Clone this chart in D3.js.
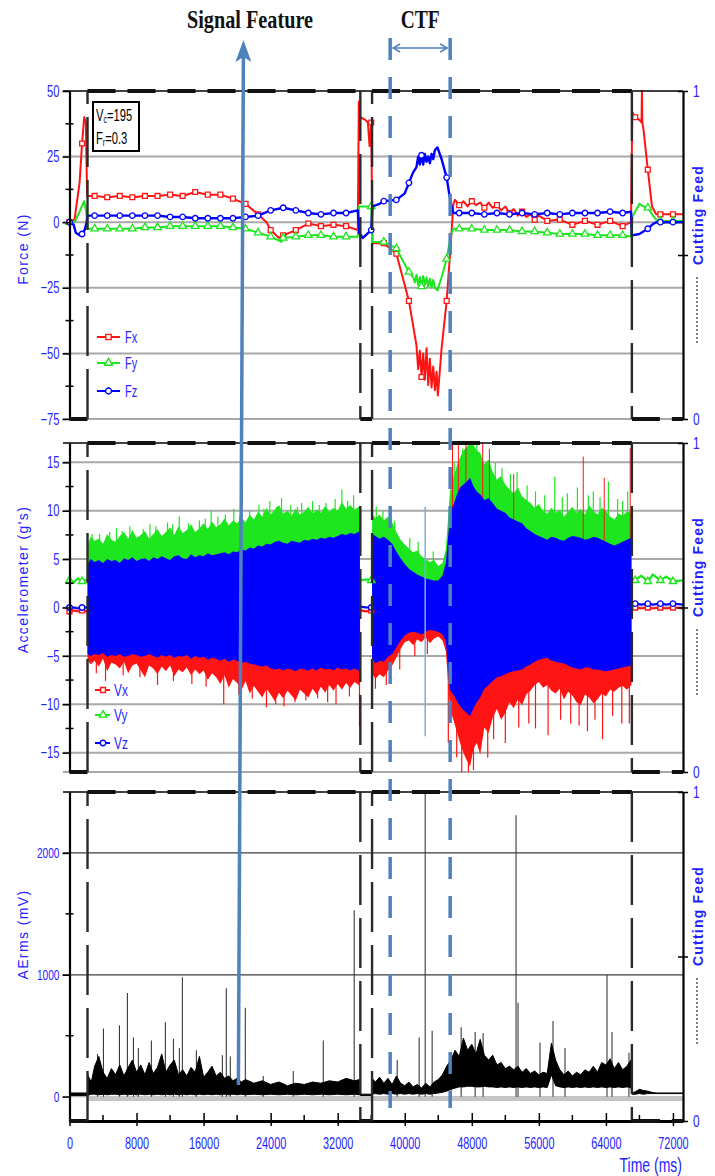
<!DOCTYPE html>
<html>
<head>
<meta charset="utf-8">
<script src="https://cdn.jsdelivr.net/npm/d3@7"></script>
<style>
  body { margin: 0; background: #fff; }
</style>
</head>
<body>
<svg id="chart"></svg>
<script>
// ---------- data ----------
const TIME_DOMAIN = [0, 73200];
const TIME_TICKS = [0, 8000, 16000, 24000, 32000, 40000, 48000, 56000, 64000, 72000];
const TIME_MINOR = [4000, 12000, 20000, 28000, 36000, 44000, 52000, 60000, 68000];

const FORCE_DOMAIN = [-75, 50];
const FORCE_TICKS = [-75, -50, -25, 0, 25, 50];
const FORCE_MINOR = [-62.5, -37.5, -12.5, 12.5, 37.5];
const ACC_DOMAIN = [-17, 17];
const ACC_TICKS = [-15, -10, -5, 0, 5, 10, 15];
const ACC_MINOR = [-12.5, -7.5, -2.5, 2.5, 7.5, 12.5];
const AE_DOMAIN = [-200, 2500];
const AE_TICKS = [0, 1000, 2000];
const AE_MINOR = [500, 1500];
const FEED_TICKS = [0, 0.5, 1];

// cutting feed on/off (right axis, 0..1)
const FEED = [[0, 0], [2150, 0], [2150, 1], [34700, 1], [34700, 0], [36100, 0],
  [36100, 1], [67100, 1], [67100, 0], [73200, 0]];

const SIGNAL_FEATURE_T = [20750, 20150];   // arrow top, arrow bottom
const CTF_T = [38260, 45420];

const FORCE_NAMES = ["Fx", "Fy", "Fz"];
const ACC_NAMES = ["Vx", "Vy", "Vz"];

// force (N), [time ms, value]
const FX = [[0, 0], [600, 1], [1200, 15], [1500, 30], [1750, 40], [1950, 38], [2100, 10],
  [3000, 10], [4500, 9.5], [6000, 10], [7500, 9.5], [9000, 10], [10500, 10], [12000, 10.5],
  [13500, 10], [15000, 11.5], [16500, 10.5], [18000, 10.5], [19500, 9], [21000, 7], [22500, 3],
  [23500, 0], [24000, -3], [25000, -6], [25500, -5], [27000, -3], [28500, -0.5], [30000, -1.5],
  [31500, -1], [33000, -1.5], [34400, -3], [34520, 46], [34700, 40], [35300, 39], [35600, 38],
  [35800, 29], [36000, 38], [36150, -8], [37500, -8], [39000, -12], [40500, -30], [41400, -47],
  [41600, -56], [41800, -49], [42000, -59], [42200, -50], [42400, -60], [42600, -48], [42800, -62],
  [43000, -52], [43200, -63], [43400, -55], [43600, -64], [43800, -57], [43950, -66], [44400, -48],
  [45000, -30], [45500, -8], [45800, 7], [46000, 8.5], [46500, 6.5], [47000, 8], [47500, 6],
  [48000, 8], [48500, 6.5], [49000, 7.5], [49500, 5.5], [50000, 7.5], [50500, 5.5], [51000, 6.5],
  [51500, 4.5], [52000, 6], [52500, 3.5], [53000, 5], [53500, 2.5], [54000, 4], [54500, 2],
  [55000, 3], [55500, 1], [56000, 2.5], [57000, 0.5], [58500, 1], [60000, -1], [61500, 0.5],
  [63000, -1], [64500, 0.5], [66000, -1.5], [67000, 0], [67150, 42], [67500, 40], [68000, 39],
  [68250, 38], [68300, 50], [68350, 38], [68500, 35], [69000, 20], [69500, 6], [70000, 3],
  [70500, 3], [72000, 3], [73200, 3]];

const FY = [[0, 0], [600, 0], [1200, 4], [1750, 8], [2000, 4], [2150, -2.5], [3000, -2.5],
  [4500, -2.5], [6000, -2.5], [7500, -2.5], [9000, -2], [10500, -2], [12000, -1.5], [13500, -1.5],
  [15000, -1.5], [16500, -1.5], [18000, -1.5], [19500, -2], [21000, -2.5], [22500, -4],
  [24000, -5.5], [25300, -7.5], [25500, -6], [27000, -5.5], [28500, -5], [30000, -5], [31500, -5.5],
  [33000, -5.5], [34400, -5.5], [34550, 6], [36000, 6], [36150, -7.5], [37500, -7.5], [39000, -10],
  [40000, -16], [40500, -19], [41000, -21], [41200, -23], [41400, -20], [41600, -24], [41800, -21],
  [42000, -24.5], [42200, -20.5], [42400, -24], [42600, -21], [42800, -24.5], [43000, -21.5],
  [43200, -25], [43400, -22], [43600, -25], [43900, -26], [44400, -21], [45000, -14], [45500, -5],
  [45800, -2.5], [46500, -2.5], [48000, -2.5], [49500, -3], [51000, -3], [52500, -3], [54000, -3.5],
  [55500, -3.5], [57000, -4], [58500, -4.5], [60000, -4.5], [61500, -4.5], [63000, -5],
  [64500, -5], [66000, -5], [67000, -5.5], [67150, 2], [68000, 7], [68500, 6], [69000, 5.5],
  [69500, 3], [70000, 1], [70500, 0.5], [72000, 0.5], [73200, 0.5]];

const FZ = [[0, 0], [500, -1], [750, -4], [1200, -5], [1500, -4.5], [1800, -3], [2050, 0],
  [2150, 2.5], [3000, 2.5], [4500, 2.5], [6000, 2.5], [7500, 2.5], [9000, 2.5], [10500, 2.5],
  [12000, 2], [13500, 2], [15000, 1.5], [16500, 1.5], [18000, 1.5], [19500, 1.5], [21000, 2],
  [22500, 2.5], [24000, 4.5], [25500, 5.5], [27000, 4.5], [28500, 3.5], [30000, 3], [31500, 3.5],
  [33000, 3.5], [34400, 4.5], [34550, -4], [35000, -6], [36000, -3], [36150, 6], [37000, 7],
  [37500, 8], [39000, 8.5], [40000, 11], [40500, 15], [41000, 19], [41400, 21], [41600, 25],
  [41800, 22], [42000, 25.5], [42200, 22], [42400, 26], [42600, 23], [42800, 25], [43000, 22.5],
  [43200, 26], [43400, 24], [43600, 27.5], [43900, 28.5], [44400, 24], [45000, 17], [45500, 7],
  [45800, 3.5], [46500, 3.5], [48000, 3.5], [49500, 3], [51000, 3.5], [52500, 3], [54000, 3.5],
  [55500, 3], [57000, 3.5], [58500, 3], [60000, 3.5], [61500, 3.5], [63000, 3.5], [64500, 4],
  [66000, 3.5], [67000, 4], [67100, -5], [68000, -4.5], [69000, -2.5], [69500, -1], [70000, 0],
  [70500, 0], [72000, 0], [73200, 0]];

// accelerometer (g's) while cutting: [time, Vx min, Vz min, Vz max, Vy max]
const ACC_CUT1 = [
  [2150, -5.4, -4.8, 4.4, 6.4], [2500, -5.9, -5.0, 5.0, 7.3], [3000, -5.5, -4.8, 4.7, 6.9],
  [3500, -6.1, -4.9, 4.9, 7.1], [4000, -5.3, -4.7, 4.6, 6.6], [4500, -6.6, -5.1, 5.0, 7.6],
  [5000, -5.7, -4.9, 4.8, 7.0], [5500, -5.9, -5.0, 4.9, 6.8], [6000, -6.3, -4.8, 4.6, 7.4],
  [6500, -5.6, -5.1, 5.1, 7.8], [7000, -6.8, -5.0, 4.9, 7.1], [7500, -6.0, -4.8, 5.2, 8.0],
  [8000, -5.8, -4.9, 4.8, 7.2], [8500, -6.5, -5.1, 5.0, 7.5], [9000, -7.2, -5.0, 5.1, 7.9],
  [9500, -6.0, -4.8, 4.8, 7.1], [10000, -6.3, -5.0, 5.2, 7.6], [10500, -6.9, -5.2, 5.0, 8.1],
  [11000, -6.1, -4.9, 5.3, 7.4], [11500, -6.6, -5.1, 5.1, 7.8], [12000, -6.0, -4.9, 4.9, 8.3],
  [12500, -7.1, -5.2, 5.3, 7.5], [13000, -6.4, -5.0, 5.4, 8.4], [13500, -6.7, -5.1, 5.1, 7.7],
  [14000, -6.2, -4.9, 5.0, 8.0], [14500, -7.0, -5.3, 5.5, 8.6], [15000, -6.4, -5.0, 5.2, 7.8],
  [15500, -6.9, -5.2, 5.4, 8.2], [16000, -6.5, -5.1, 5.3, 8.7], [16500, -7.5, -5.4, 5.6, 8.1],
  [17000, -6.8, -5.2, 5.4, 8.9], [17500, -7.2, -5.3, 5.5, 8.3], [18000, -7.9, -5.5, 5.6, 8.6],
  [18500, -7.0, -5.3, 5.7, 9.2], [19000, -8.3, -5.6, 5.5, 8.5], [19500, -7.4, -5.4, 5.8, 9.0],
  [20000, -7.8, -5.5, 5.7, 8.7], [20500, -8.6, -5.7, 6.0, 9.3], [21000, -7.6, -5.6, 5.9, 8.8],
  [21500, -8.9, -5.8, 6.2, 9.6], [22000, -8.1, -5.9, 6.1, 9.1], [22500, -8.7, -6.0, 6.4, 9.9],
  [23000, -9.3, -6.1, 6.3, 9.4], [23500, -8.4, -6.0, 6.6, 10.3], [24000, -9.0, -6.3, 6.5, 9.6],
  [24500, -9.7, -6.4, 6.8, 10.1], [25000, -8.8, -6.3, 6.9, 10.6], [25500, -9.4, -6.5, 6.7, 9.7],
  [26000, -8.6, -6.3, 6.6, 10.0], [26500, -9.1, -6.4, 6.9, 9.5], [27000, -9.6, -6.6, 6.8, 10.2],
  [27500, -8.5, -6.3, 6.7, 9.6], [28000, -8.9, -6.4, 7.0, 9.9], [28500, -9.3, -6.5, 6.9, 10.4],
  [29000, -8.4, -6.3, 7.1, 9.7], [29500, -9.0, -6.5, 7.0, 10.1], [30000, -8.2, -6.2, 7.2, 9.8],
  [30500, -8.8, -6.4, 7.1, 10.5], [31000, -8.0, -6.3, 7.3, 9.9], [31500, -8.6, -6.5, 7.2, 10.3],
  [32000, -7.9, -6.2, 7.4, 10.0], [32500, -8.5, -6.4, 7.6, 10.9], [33000, -7.8, -6.3, 7.5, 10.2],
  [33500, -8.3, -6.5, 7.7, 10.6], [34000, -7.7, -6.3, 7.6, 10.1], [34650, -8.1, -6.6, 7.9, 10.5]];
const ACC_CUT2 = [
  [36100, -6.8, -5.2, 7.6, 9.8], [36500, -7.4, -5.8, 7.4, 9.2], [37000, -6.9, -5.5, 7.1, 9.6],
  [37500, -7.2, -5.6, 7.3, 9.0], [38000, -6.5, -5.1, 7.0, 9.4], [38500, -6.0, -4.8, 6.6, 8.8],
  [39000, -5.2, -4.1, 5.8, 7.8], [39500, -4.3, -3.4, 5.1, 7.0], [40000, -3.6, -2.9, 4.5, 6.5],
  [40500, -3.4, -2.6, 4.0, 6.1], [41000, -3.9, -2.5, 3.7, 5.7], [41500, -3.3, -2.6, 3.4, 5.9],
  [42000, -3.6, -2.8, 3.2, 5.3], [42500, -3.1, -2.5, 3.0, 5.0], [43000, -3.7, -2.3, 2.9, 4.7],
  [43500, -3.2, -2.4, 2.8, 4.9], [44000, -3.0, -2.5, 2.8, 4.3], [44500, -3.4, -2.8, 3.3, 4.6],
  [44900, -4.5, -3.5, 4.6, 6.0], [45400, -10.5, -8.5, 9.6, 12.0], [45800, -11.6, -9.0, 10.6, 13.4],
  [46200, -12.8, -9.6, 11.6, 14.6], [46600, -14.0, -10.2, 12.4, 15.5], [47000, -15.0, -10.6, 12.7, 16.2],
  [47400, -15.8, -10.9, 13.0, 16.6], [47800, -16.4, -11.2, 13.4, 17], [48200, -14.6, -10.4, 12.5, 16.8],
  [48600, -14.0, -9.8, 12.0, 16.2], [49000, -15.2, -9.3, 11.7, 16.0], [49500, -12.4, -8.4, 11.1, 14.8],
  [50000, -13.0, -8.0, 11.3, 15.3], [50500, -11.4, -7.6, 10.8, 14.0], [51000, -10.5, -7.2, 10.2, 13.2],
  [51500, -11.6, -7.1, 10.0, 13.6], [52000, -10.9, -6.9, 9.8, 12.7], [52500, -9.8, -6.7, 9.3, 12.2],
  [53000, -10.4, -6.6, 9.1, 11.8], [53500, -9.5, -6.5, 8.9, 12.4], [54000, -10.1, -6.4, 8.7, 11.5],
  [54500, -9.0, -6.1, 8.2, 11.1], [55000, -8.6, -5.9, 7.9, 10.8], [55500, -8.0, -5.6, 7.6, 10.3],
  [56000, -7.7, -5.4, 7.4, 10.7], [56500, -8.3, -5.3, 7.2, 10.0], [57000, -8.0, -5.2, 7.0, 9.7],
  [57500, -8.6, -5.5, 7.3, 10.3], [58000, -8.9, -5.6, 7.2, 9.8], [58500, -8.4, -5.7, 7.0, 10.1],
  [59000, -9.5, -5.8, 6.9, 9.4], [59500, -8.7, -6.0, 7.2, 9.9], [60000, -9.1, -6.2, 7.4, 10.4],
  [60500, -9.8, -6.3, 7.3, 9.8], [61000, -10.1, -6.4, 7.2, 10.2], [61500, -9.0, -6.2, 7.0, 9.6],
  [62000, -9.3, -6.2, 7.1, 10.6], [62500, -9.9, -6.4, 7.3, 10.0], [63000, -9.5, -6.4, 7.2, 9.6],
  [63500, -8.9, -6.5, 7.0, 10.3], [64000, -9.2, -6.6, 6.8, 10.0], [64500, -8.5, -6.5, 6.6, 9.4],
  [65000, -8.7, -6.4, 6.4, 9.1], [65500, -8.3, -6.3, 6.6, 9.7], [66000, -8.1, -6.2, 6.8, 9.5],
  [66500, -8.5, -6.1, 7.0, 9.9], [67050, -8.0, -6.0, 7.2, 9.8]];

// accelerometer while idle: [time, Vx, Vy, Vz]
const ACC_IDLE = [
  [[0, -0.4, 2.8, 0], [500, -0.3, 2.6, 0], [1000, -0.4, 3.0, -0.1], [1500, -0.3, 2.7, 0], [2150, -0.4, 2.9, 0]],
  [[34700, -0.3, 2.8, 0.1], [35400, -0.4, 2.9, 0], [36000, -0.3, 2.8, 0], [36100, -0.3, 2.8, 0]],
  [[67100, -0.1, 2.7, 0.3], [67500, 0, 2.8, 0.4], [68200, -0.1, 3.3, 0.3], [69000, 0, 2.7, 0.4],
   [69600, -0.1, 3.4, 0.3], [70500, 0, 2.8, 0.4], [71200, -0.1, 3.2, 0.3], [72000, 0, 2.7, 0.4],
   [73200, -0.1, 2.8, 0.3]]];

// single peaks sticking out of the envelopes: [time, value]
const VY_PEAKS = [[2700, 7.6], [3600, 7.6], [4800, 7.8], [5600, 8.2], [6300, 7.9], [7200, 8.4],
  [8800, 8.1], [9600, 8.6], [10300, 8.4], [11700, 8.8], [12300, 8.6], [13100, 9.4], [14200, 8.7],
  [15500, 9.0], [16200, 9.2], [16900, 10.0], [17700, 9.4], [18600, 9.6], [19600, 10.2], [20300, 9.5],
  [21500, 10.0], [22600, 10.6], [23200, 10.2], [23900, 11.0], [24700, 10.4], [25300, 11.3],
  [26400, 10.6], [27200, 10.4], [27700, 10.8], [29000, 11.0], [29800, 10.6], [30600, 10.8],
  [31700, 11.2], [32500, 12.2], [33200, 11.0], [33900, 11.6], [36600, 10.4], [37400, 10.0],
  [38800, 9.0], [40600, 7.2], [41600, 6.8], [43400, 5.8], [45900, 15.0], [46900, 16.4], [48600, 17],
  [50800, 15.0], [51600, 14.4], [52600, 13.8], [53400, 14.0], [54600, 12.6], [55600, 12.0],
  [56700, 11.6], [57900, 13.5], [58800, 11.4], [59400, 11.8], [60600, 12.4], [61900, 11.6],
  [62500, 12.0], [63300, 11.4], [64300, 13.0], [65400, 11.2], [66000, 11.0], [66600, 12.0]];
const VX_UP_PEAKS = [[45700, 17], [46400, 17], [47300, 17], [49300, 17], [50100, 16.4],
  [53000, 13.8], [61300, 15.6], [63800, 13.4], [66900, 16.5]];
const VX_DOWN_PEAKS = [[3200, -6.8], [4300, -7.6], [6400, -7.0], [8400, -7.2], [10500, -8.0],
  [12400, -7.6], [14600, -7.9], [16300, -8.2], [18400, -10.0], [20200, -9.0], [21800, -9.4],
  [23500, -10.3], [24600, -10.0], [25600, -10.2], [26900, -9.8], [28200, -9.6], [29600, -9.4],
  [30800, -9.8], [31800, -10.0], [33400, -9.2], [34600, -12.3], [36500, -8.4], [37800, -8.0],
  [39400, -6.4], [41200, -5.0], [42700, -4.8], [45200, -14.0], [46200, -15.5], [46800, -17],
  [47600, -17], [48200, -16.8], [49900, -15.5], [50600, -13.6], [52000, -14.0], [53600, -12.4],
  [54800, -12.0], [55600, -12.5], [57100, -13.2], [58600, -11.6], [59800, -12.0], [60800, -12.2],
  [61800, -12.8], [62700, -11.6], [63600, -13.6], [64800, -11.2], [65900, -12.0], [66800, -12.0]];
const VZ_SPIKES = [[42440, -13.3, 10.4]];

// AE rms (mV): band [time, low, high], baseline and spikes [time, value]
const AE_BAND = [[0, 10, 30], [2150, 10, 30], [2150, 10, 180], [2600, 20, 120], [3000, 20, 250],
  [3500, 15, 330], [4000, 20, 200], [4500, 15, 150], [5000, 20, 230], [5500, 20, 180],
  [6000, 15, 260], [6500, 20, 170], [7000, 15, 240], [7500, 20, 300], [8000, 15, 200],
  [8500, 20, 260], [9000, 15, 180], [9500, 20, 280], [10000, 15, 190], [10500, 20, 240],
  [11000, 15, 350], [11500, 20, 200], [12000, 15, 260], [12500, 20, 300], [13000, 15, 180],
  [13500, 20, 220], [14000, 15, 170], [14500, 20, 240], [15000, 15, 200], [15500, 20, 330],
  [16000, 15, 160], [16500, 20, 200], [17000, 15, 250], [17500, 20, 170], [18000, 15, 200],
  [18500, 20, 150], [19000, 15, 170], [19500, 20, 130], [20000, 15, 150], [20500, 20, 120],
  [21000, 15, 140], [22000, 20, 110], [23000, 15, 130], [24000, 20, 100], [25000, 15, 120],
  [26000, 20, 90], [27000, 15, 110], [28000, 20, 100], [29000, 15, 120], [30000, 20, 110],
  [31000, 15, 130], [32000, 20, 120], [33000, 15, 150], [34000, 20, 130], [34600, 15, 140],
  [34700, 10, 20], [36100, 10, 20], [36100, 20, 150], [36500, 25, 120], [37000, 20, 160],
  [37500, 25, 110], [38000, 20, 150], [38500, 25, 100], [39000, 20, 170], [39500, 25, 110],
  [40000, 20, 90], [40500, 25, 120], [41000, 20, 80], [41500, 25, 100], [42000, 20, 70],
  [42500, 25, 110], [43000, 20, 80], [43500, 25, 120], [44000, 30, 140], [44500, 35, 180],
  [45000, 45, 250], [45500, 60, 300], [46000, 70, 380], [46500, 80, 330], [47000, 80, 480],
  [47500, 85, 380], [48000, 85, 430], [48500, 80, 350], [49000, 80, 470], [49500, 85, 340],
  [50000, 80, 300], [50500, 80, 340], [51000, 75, 260], [51500, 80, 280], [52000, 75, 230],
  [52500, 80, 250], [53000, 75, 220], [53500, 80, 250], [54000, 75, 200], [54500, 80, 230],
  [55000, 75, 190], [55500, 80, 210], [56000, 75, 180], [56500, 80, 200], [57000, 75, 190],
  [57500, 180, 440], [58000, 90, 300], [58500, 80, 220], [59000, 75, 180], [59500, 80, 210],
  [60000, 75, 170], [60500, 80, 200], [61000, 75, 180], [61500, 80, 220], [62000, 75, 200],
  [62500, 80, 250], [63000, 75, 200], [63500, 80, 280], [64000, 75, 260], [64500, 80, 310],
  [65000, 75, 230], [65500, 80, 280], [66000, 75, 220], [66500, 80, 250], [67000, 75, 300],
  [67100, 20, 30], [67500, 20, 40], [68000, 25, 60], [68500, 20, 50], [69000, 25, 45],
  [69500, 25, 35], [70000, 25, 30], [73200, 25, 30]];
const AE_BASE = [[2150, -15], [73200, -15]];
const AE_SPIKES = [[3340, 350], [4050, 560], [5960, 585], [6910, 850], [7630, 485], [8220, 400],
  [9770, 460], [11440, 610], [12400, 475], [13110, 400], [13470, 980], [15140, 380], [18240, 340],
  [18710, 890], [19190, 330], [20980, 730], [23120, 170], [26700, 210], [30280, 460], [33970, 1530],
  [39100, 300], [41720, 485], [42440, 2500], [43270, 540], [45530, 360], [46730, 570], [48400, 530],
  [49350, 520], [53280, 2310], [53520, 770], [56140, 445], [57690, 620], [59120, 400], [64130, 1000],
  [64730, 530], [66750, 360]];

// ---------- drawing ----------
const WIDTH = 715;
const HEIGHT = 1176;
const X_LEFT = 69.5;
const X_RIGHT = 683;
const FONT = "'Liberation Sans', Arial, sans-serif";
const TXT_BLUE = "#2424ff";
const ANNO_BLUE = "#4f81bd";
const RED = "#ff1414";
const GREEN = "#1ee61e";
const BLUE = "#0000ff";

const svg = d3.select("#chart")
    .attr("width", WIDTH)
    .attr("height", HEIGHT)
    .style("font-family", FONT);

const x = d3.scaleLinear().domain(TIME_DOMAIN).range([X_LEFT, X_RIGHT]);

const panels = [
  { y: d3.scaleLinear().domain(FORCE_DOMAIN).range([419, 91]), ticks: FORCE_TICKS, minor: FORCE_MINOR,
    title: "Force (N)", titleShift: -6, grid: "#a8a8a8", gridWidth: 2 },
  { y: d3.scaleLinear().domain(ACC_DOMAIN).range([772, 443]), ticks: ACC_TICKS, minor: ACC_MINOR,
    title: "Accelerometer (g's)", titleShift: -28, grid: "#a8a8a8", gridWidth: 2 },
  { y: d3.scaleLinear().domain(AE_DOMAIN).range([1121, 792]), ticks: AE_TICKS, minor: AE_MINOR,
    title: "AErms (mV)", titleShift: -22, grid: "#3c3c3c", gridWidth: 1.3 }
];
panels.forEach(p => {
  p.top = p.y.range()[1];
  p.bottom = p.y.range()[0];
  p.feed = d3.scaleLinear().domain([0, 1]).range([p.bottom, p.top]);
  p.gGrid = svg.append("g");
  p.gData = svg.append("g");
  p.gAxis = svg.append("g");
});

function squeeze(sel, k) {
  sel.each(function() {
    const t = d3.select(this);
    const x0 = +t.attr("x") || 0;
    t.attr("x", x0 / k).attr("transform", `scale(${k},1)`);
  });
}

// grid + frame
panels.forEach((p, i) => {
  p.gGrid.selectAll("line")
    .data(p.ticks.filter(d => d !== p.y.domain()[1]).concat(i === 1 ? [ACC_DOMAIN[0]] : []))
    .join("line")
      .attr("x1", 63).attr("x2", X_RIGHT)
      .attr("y1", d => p.y(d)).attr("y2", d => p.y(d))
      .attr("stroke", d => (i === 2 && d === 0) ? "#b0b0b0" : p.grid)
      .attr("stroke-width", p.gridWidth);

  // top border
  p.gAxis.append("line")
      .attr("x1", 63).attr("x2", X_RIGHT)
      .attr("y1", p.top).attr("y2", p.top)
      .attr("stroke", "#000").attr("stroke-width", 1.5);

  // left axis
  const gl = p.gAxis.append("g")
      .attr("transform", `translate(${X_LEFT},0)`)
      .call(d3.axisLeft(p.y).tickValues(p.ticks).tickFormat(d3.format("d"))
        .tickSize(7).tickSizeOuter(0).tickPadding(3))
      .attr("font-family", FONT)
      .attr("font-size", i === 2 ? 14.5 : 16);
  gl.select(".domain").attr("stroke", "#000").attr("stroke-width", 2.2);
  gl.selectAll(".tick line").attr("stroke", "#000").attr("stroke-width", 1.5);
  gl.selectAll("text").attr("fill", TXT_BLUE);
  squeeze(gl.selectAll("text"), 0.7);
  gl.selectAll(".minor").data(p.minor).join("line")
      .attr("x1", -4).attr("x2", 4)
      .attr("y1", d => p.y(d)).attr("y2", d => p.y(d))
      .attr("stroke", "#000").attr("stroke-width", 1.5);

  // right axis (cutting feed)
  const gr = p.gAxis.append("g")
      .attr("transform", `translate(${X_RIGHT},0)`)
      .call(d3.axisRight(p.feed).tickValues(FEED_TICKS).tickFormat(d => d === 0.5 ? "" : d)
        .tickSize(5).tickSizeOuter(0).tickPadding(5))
      .attr("font-family", FONT)
      .attr("font-size", 17);
  gr.select(".domain").attr("stroke", "#000").attr("stroke-width", 2.2);
  gr.selectAll(".tick line").attr("x1", -5).attr("stroke", "#000").attr("stroke-width", 1.5);
  gr.selectAll("text").attr("fill", TXT_BLUE);
  squeeze(gr.selectAll("text"), 0.7);

  // axis titles
  p.gAxis.append("text")
      .attr("transform", `translate(28,${(p.top + p.bottom) / 2 + p.titleShift}) rotate(-90)`)
      .attr("text-anchor", "middle")
      .attr("font-size", 14)
      .attr("letter-spacing", 1.4)
      .attr("fill", TXT_BLUE)
      .text(p.title);
  p.gAxis.append("text")
      .attr("transform", `translate(703,${p.top + 124}) rotate(-90)`)
      .attr("text-anchor", "middle")
      .attr("font-size", 14)
      .attr("font-weight", "bold")
      .attr("letter-spacing", 1.2)
      .attr("fill", "#1e1eff")
      .text("Cutting Feed");
  p.gAxis.append("line")
      .attr("x1", 697).attr("x2", 697)
      .attr("y1", p.top + 186).attr("y2", p.top + 252)
      .attr("stroke", "#555").attr("stroke-width", 1.5)
      .attr("stroke-dasharray", "2,2");
});

// ---- force panel ----
const pF = panels[0];
const forceLine = d3.line().x(d => x(d[0])).y(d => pF.y(d[1]));
const forceSeries = [
  { name: FORCE_NAMES[0], data: FX, color: RED, symbol: d3.symbolSquare, width: 2 },
  { name: FORCE_NAMES[1], data: FY, color: GREEN, symbol: d3.symbolTriangle, width: 2 },
  { name: FORCE_NAMES[2], data: FZ, color: BLUE, symbol: d3.symbolCircle, width: 2.4 }
];
forceSeries.forEach(s => {
  pF.gData.append("path")
      .attr("d", forceLine(s.data))
      .attr("fill", "none")
      .attr("stroke", s.color)
      .attr("stroke-width", s.width)
      .attr("stroke-linejoin", "round");
  pF.gData.selectAll(null)
    .data(s.data.filter(d => d[0] % 1500 === 0))
    .join("path")
      .attr("transform", d => `translate(${x(d[0])},${pF.y(d[1])})`)
      .attr("d", d3.symbol().type(s.symbol).size(24))
      .attr("fill", "#fff")
      .attr("stroke", s.color)
      .attr("stroke-width", 1.3);
});

// ---- accelerometer panel ----
const pA = panels[1];
const accSegments = [ACC_CUT1, ACC_CUT2];
const areaOf = (lo, hi) => d3.area().x(d => x(d[0])).y0(lo).y1(hi);
const peakLines = (cls, data, color, w) => pA.gData.selectAll("." + cls).data(data).join("line")
    .attr("class", cls)
    .attr("x1", d => x(d[0])).attr("x2", d => x(d[0]))
    .attr("y1", pA.y(0)).attr("y2", d => pA.y(d[1]))
    .attr("stroke", color).attr("stroke-width", w);
// Vx (red) below, Vy (green) above, Vz (blue) band on top
accSegments.forEach(seg => {
  pA.gData.append("path").attr("fill", RED)
      .attr("d", areaOf(d => pA.y(d[1]), () => pA.y(0))(seg));
});
peakLines("vxdown", VX_DOWN_PEAKS, RED, 1.2);
accSegments.forEach(seg => {
  pA.gData.append("path").attr("fill", GREEN)
      .attr("d", areaOf(() => pA.y(0), d => pA.y(d[4]))(seg));
});
peakLines("vyup", VY_PEAKS, GREEN, 1.2);
peakLines("vxup", VX_UP_PEAKS, RED, 1);
accSegments.forEach(seg => {
  pA.gData.append("path").attr("fill", BLUE)
      .attr("d", areaOf(d => pA.y(d[2]), d => pA.y(d[3]))(seg));
});
pA.gData.selectAll(".vzspike").data(VZ_SPIKES).join("line")
    .attr("x1", d => x(d[0])).attr("x2", d => x(d[0]))
    .attr("y1", d => pA.y(d[1])).attr("y2", d => pA.y(d[2]))
    .attr("stroke", "#7aaee0").attr("stroke-width", 1.5);

const idleSeries = [
  { col: 1, color: RED, symbol: d3.symbolSquare },
  { col: 2, color: GREEN, symbol: d3.symbolTriangle },
  { col: 3, color: BLUE, symbol: d3.symbolCircle }
];
ACC_IDLE.forEach(seg => {
  idleSeries.forEach(s => {
    pA.gData.append("path")
        .attr("d", d3.line().x(d => x(d[0])).y(d => pA.y(d[s.col]))(seg))
        .attr("fill", "none").attr("stroke", s.color).attr("stroke-width", 2.2);
    pA.gData.selectAll(null)
      .data(seg.filter(d => d[0] % 1500 === 0))
      .join("path")
        .attr("transform", d => `translate(${x(d[0])},${pA.y(d[s.col])})`)
        .attr("d", d3.symbol().type(s.symbol).size(24))
        .attr("fill", "#fff").attr("stroke", s.color).attr("stroke-width", 1.4);
  });
});

// ---- AE panel ----
const pE = panels[2];
pE.gData.append("path")
    .attr("d", d3.line().x(d => x(d[0])).y(d => pE.y(d[1]))(AE_BASE))
    .attr("stroke", "#c4c4c4").attr("stroke-width", 5).attr("fill", "none");
pE.gData.selectAll(".spike").data(AE_SPIKES).join("line")
    .attr("x1", d => x(d[0])).attr("x2", d => x(d[0]))
    .attr("y1", pE.y(0)).attr("y2", d => pE.y(d[1]))
    .attr("stroke", "#3a3a3a").attr("stroke-width", 1.1);
pE.gData.append("path")
    .attr("d", areaOf(d => pE.y(d[1]), d => pE.y(d[2]))(AE_BAND))
    .attr("fill", "#000").attr("stroke", "#000").attr("stroke-width", 1);

// time axis
const gx = pE.gAxis.append("g")
    .attr("transform", `translate(0,${pE.bottom})`)
    .call(d3.axisBottom(x).tickValues(TIME_TICKS).tickFormat(d3.format("d"))
      .tickSizeInner(-8).tickSizeOuter(0).tickPadding(17))
    .attr("font-family", FONT)
    .attr("font-size", 16);
gx.select(".domain").attr("stroke", "#000").attr("stroke-width", 3);
gx.selectAll(".tick line").attr("y2", -8).attr("y1", 5).attr("stroke", "#000").attr("stroke-width", 1.5);
gx.selectAll("text").attr("fill", TXT_BLUE);
squeeze(gx.selectAll("text"), 0.68);
gx.selectAll(".minor").data(TIME_MINOR).join("line")
    .attr("x1", d => x(d)).attr("x2", d => x(d))
    .attr("y1", 0).attr("y2", -6)
    .attr("stroke", "#000").attr("stroke-width", 1.5);
svg.append("text")
    .attr("transform", "translate(682,1172) scale(0.7,1)")
    .attr("text-anchor", "end")
    .attr("font-size", 20)
    .attr("fill", TXT_BLUE)
    .text("Time (ms)");

// cutting feed (dashed) in every panel: flat runs heavy, switch edges lighter
const feedSteps = d3.pairs(FEED);
panels.forEach(p => {
  svg.append("g").selectAll("line").data(feedSteps).join("line")
      .attr("x1", d => x(d[0][0])).attr("x2", d => x(d[1][0]))
      .attr("y1", d => p.feed(d[0][1])).attr("y2", d => p.feed(d[1][1]))
      .attr("stroke", d => d[0][0] === d[1][0] ? "#2a2a2a" : "#111")
      .attr("stroke-width", d => d[0][0] === d[1][0] ? 2.4 : 4)
      .attr("stroke-dasharray", d => d[0][0] === d[1][0] ? "50,13" : "28,12");
});

// legends
const legendF = svg.append("g");
forceSeries.forEach((s, i) => {
  const ly = [337, 363, 391][i];
  legendF.append("line").attr("x1", 97).attr("x2", 120).attr("y1", ly).attr("y2", ly)
      .attr("stroke", s.color).attr("stroke-width", 2);
  legendF.append("path").attr("transform", `translate(108.5,${ly})`)
      .attr("d", d3.symbol().type(s.symbol).size(28))
      .attr("fill", "#fff").attr("stroke", s.color).attr("stroke-width", 1.4);
  legendF.append("text").attr("transform", `translate(125,${ly + 6}) scale(0.65,1)`)
      .attr("font-size", 17).attr("fill", TXT_BLUE).text(s.name);
});
const legendA = svg.append("g");
idleSeries.forEach((s, i) => {
  const ly = [690, 715, 743][i];
  legendA.append("line").attr("x1", 95).attr("x2", 110).attr("y1", ly).attr("y2", ly)
      .attr("stroke", s.color).attr("stroke-width", 2);
  legendA.append("path").attr("transform", `translate(103,${ly})`)
      .attr("d", d3.symbol().type(s.symbol).size(24))
      .attr("fill", "#fff").attr("stroke", s.color).attr("stroke-width", 1.4);
  legendA.append("text").attr("transform", `translate(114,${ly + 6}) scale(0.7,1)`)
      .attr("font-size", 17).attr("fill", TXT_BLUE).text(ACC_NAMES[i]);
});

// cutting condition box
const box = svg.append("g");
box.append("rect").attr("x", 93).attr("y", 102).attr("width", 46).attr("height", 49)
    .attr("fill", "#fff").attr("stroke", "#000").attr("stroke-width", 2);
const t1 = box.append("text").attr("transform", "translate(96,121) scale(0.7,1)")
    .attr("font-size", 16).attr("fill", "#000");
t1.append("tspan").text("V");
t1.append("tspan").attr("font-size", 10).attr("dy", 2).text("c");
t1.append("tspan").attr("dy", -2).text("=195");
const t2 = box.append("text").attr("transform", "translate(96,144) scale(0.7,1)")
    .attr("font-size", 16).attr("fill", "#000");
t2.append("tspan").text("F");
t2.append("tspan").attr("font-size", 10).attr("dy", 2).text("r");
t2.append("tspan").attr("dy", -2).text("=0.3");

// annotations: CTF window and signal feature arrow
const anno = svg.append("g");
CTF_T.forEach(t => {
  anno.append("line")
      .attr("x1", x(t)).attr("x2", x(t)).attr("y1", 38).attr("y2", 1108)
      .attr("stroke", ANNO_BLUE).attr("stroke-width", 3.5)
      .attr("stroke-dasharray", "22,17");
});
const xa = x(CTF_T[0]) + 3, xb = x(CTF_T[1]) - 3;
anno.append("line").attr("x1", xa).attr("x2", xb).attr("y1", 48).attr("y2", 48)
    .attr("stroke", ANNO_BLUE).attr("stroke-width", 1.5);
anno.append("path").attr("d", `M${xa + 7},${44} L${xa},48 L${xa + 7},${52} M${xb - 7},${44} L${xb},48 L${xb - 7},${52}`)
    .attr("fill", "none").attr("stroke", ANNO_BLUE).attr("stroke-width", 1.5);
anno.append("text").attr("x", (x(CTF_T[0]) + x(CTF_T[1])) / 2).attr("y", 28)
    .attr("text-anchor", "middle")
    .attr("font-family", "'Liberation Serif', 'Times New Roman', serif")
    .attr("font-weight", "bold").attr("font-size", 26)
    .attr("textLength", 39).attr("lengthAdjust", "spacingAndGlyphs")
    .attr("fill", "#111").text("CTF");

const sTop = x(SIGNAL_FEATURE_T[0]), sBot = x(SIGNAL_FEATURE_T[1]);
anno.append("line").attr("x1", sTop).attr("x2", sBot).attr("y1", 56).attr("y2", 1085)
    .attr("stroke", ANNO_BLUE).attr("stroke-width", 3.5);
anno.append("path").attr("d", `M${sTop},40 L${sTop + 8},62 L${sTop},57 L${sTop - 8},62 Z`)
    .attr("fill", ANNO_BLUE);
anno.append("text").attr("x", 250).attr("y", 28)
    .attr("text-anchor", "middle")
    .attr("font-family", "'Liberation Serif', 'Times New Roman', serif")
    .attr("font-weight", "bold").attr("font-size", 26)
    .attr("textLength", 126).attr("lengthAdjust", "spacingAndGlyphs")
    .attr("fill", "#111").text("Signal Feature");
</script>
</body>
</html>
